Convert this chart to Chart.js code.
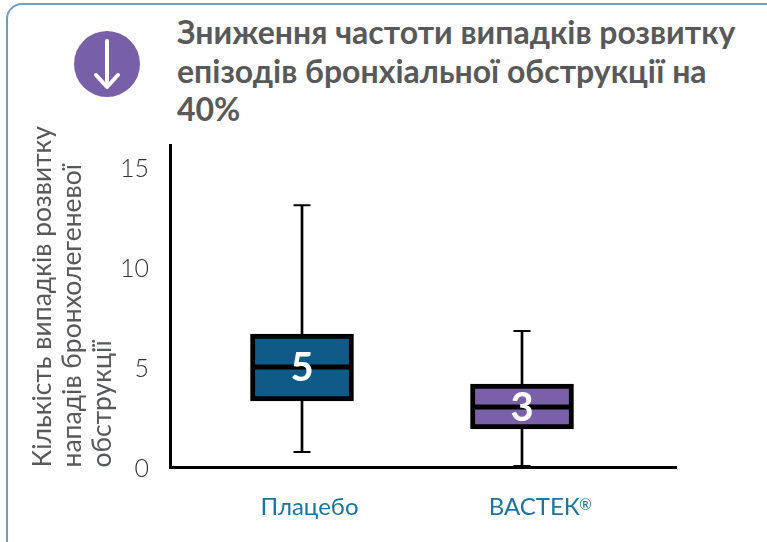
<!doctype html>
<html>
  <head>
    <meta charset="utf-8" />
    <title>Зниження частоти випадків</title>
    <style>
      html, body { margin: 0; padding: 0; background: #fff; overflow: hidden; }
      body { width: 767px; height: 542px; position: relative; }
      #card {
        position: absolute; left: 6px; top: 3px; width: 800px; height: 560px;
        border: 2px solid #6f9fbd; border-radius: 16px; box-sizing: border-box;
      }
      #icon { position: absolute; left: 74px; top: 31px; }
      h1 {
        position: absolute; left: 177px; top: 13px; width: 585px; margin: 0;
        font: bold 32px/38.5px Lato, "Open Sans", sans-serif; color: #58595b;
      }
      canvas { position: absolute; left: 0; top: 0; }
    </style>
  </head>
  <body>
    <div id="card"></div>
    <svg id="icon" width="66" height="66" viewBox="0 0 66 66">
      <circle cx="33" cy="33" r="33" fill="#7760a8"></circle>
      <path d="M33 10 V55 M22 44 L33 56 L44 44" fill="none" stroke="#fff" stroke-width="4" stroke-linecap="round" stroke-linejoin="round"></path>
    </svg>
    <h1>Зниження частоти випадків розвитку<br />епізодів бронхіальної обструкції на<br />40%</h1>
    <div style="position:absolute;left:0;top:0;width:767px;height:542px">
      <canvas id="boxChart"></canvas>
    </div>

    <script src="https://cdn.jsdelivr.net/npm/chart.js"></script>
    <script>
      var categories = ["Плацебо", "ВАСТЕК"];
      var positions = [1, 2];
      var labelPositions = [1.034, 2.056];
      var yTicks = [0, 5, 10, 15];
      var yTitle = ["Кількість випадків розвитку", "нападів бронхолегеневої", "обструкції"];
      var medianLabels = ["5", "3"];

      var whiskerLow = [0.78, 0.08];
      var whiskerHigh = [13.13, 6.83];
      var boxLow = [3.33, 1.93];
      var boxHigh = [6.68, 4.18];
      var medians = [5.03, 3.03];
      var boxColors = ["#0f5a86", "#7a60a8"];

      function ranges(lo, hi) {
        return positions.map(function (x, i) {
          return { x: x, y: [lo[i], hi[i]] };
        });
      }
      function points(vals) {
        return positions.map(function (x, i) {
          return { x: x, y: vals[i] };
        });
      }

      // white numbers on top of the boxes, and the small raised ® after the last label
      var medianText = {
        id: "medianText",
        afterDatasetsDraw: function (chart) {
          var ctx = chart.ctx;
          ctx.save();
          ctx.fillStyle = "#fff";
          ctx.font = "bold 40px Lato, 'Open Sans', sans-serif";
          ctx.textAlign = "center";
          ctx.textBaseline = "middle";
          medianLabels.forEach(function (t, i) {
            ctx.fillText(t, chart.scales.x.getPixelForValue(positions[i]), chart.scales.y.getPixelForValue(medians[i]) + 1);
          });
          ctx.fillStyle = "#1a75a3";
          ctx.font = "15px Lato, 'Open Sans', sans-serif";
          ctx.textAlign = "left";
          ctx.fillText("®", chart.scales.x.getPixelForValue(labelPositions[1]) + 45, 505);
          ctx.restore();
        },
      };

      var ctx = document.getElementById("boxChart").getContext("2d");
      var chart = new Chart(ctx, {
        type: "bar",
        data: {
          datasets: [
            {
              type: "line",
              data: points(medians),
              showLine: false,
              pointStyle: "line",
              pointRadius: 49,
              pointBorderWidth: 5,
              pointBorderColor: "#000",
              order: 1,
            },
            {
              data: ranges(boxLow, boxHigh),
              backgroundColor: boxColors,
              borderColor: "#000",
              borderWidth: 5,
              borderSkipped: false,
              barThickness: 103,
              grouped: false,
              order: 2,
            },
            {
              data: ranges(whiskerLow, whiskerHigh),
              backgroundColor: "#000",
              barThickness: 2,
              grouped: false,
              order: 3,
            },
            {
              type: "line",
              data: points(whiskerHigh),
              showLine: false,
              pointStyle: "line",
              pointRadius: 8.5,
              pointBorderWidth: 2,
              pointBorderColor: "#000",
              order: 3,
            },
            {
              type: "line",
              data: points(whiskerLow),
              showLine: false,
              pointStyle: "line",
              pointRadius: 8.5,
              pointBorderWidth: 2,
              pointBorderColor: "#000",
              order: 3,
            },
          ],
        },
        plugins: [medianText],
        options: {
          responsive: true,
          maintainAspectRatio: false,
          animation: false,
          layout: { padding: { top: 145, right: 91, left: 0, bottom: 0 } },
          plugins: { legend: { display: false }, tooltip: { enabled: false } },
          scales: {
            x: {
              type: "linear",
              offset: false,
              min: 0.4,
              max: 2.7,
              afterBuildTicks: function (axis) {
                axis.ticks = labelPositions.map(function (v) {
                  return { value: v };
                });
              },
              afterFit: function (axis) {
                axis.height = 74.5;
              },
              grid: { drawOnChartArea: false, drawTicks: false },
              border: { color: "#000", width: 3 },
              ticks: {
                autoSkip: false,
                maxRotation: 0,
                padding: 25,
                color: "#1a75a3",
                font: { family: "Lato, 'Open Sans', sans-serif", size: 24 },
                callback: function (value, index) {
                  return categories[index];
                },
              },
            },
            y: {
              min: 0,
              max: 16.15,
              afterBuildTicks: function (axis) {
                axis.ticks = yTicks.map(function (v) {
                  return { value: v };
                });
              },
              afterFit: function (axis) {
                axis.width = 170;
              },
              grid: { drawOnChartArea: false, drawTicks: false },
              border: { color: "#000", width: 3 },
              title: {
                display: true,
                text: yTitle,
                align: "start",
                color: "#58595b",
                font: { family: "Lato, 'Open Sans', sans-serif", size: 26.5, lineHeight: 1.14 },
                padding: { top: 27, bottom: 0 },
              },
              ticks: {
                padding: 21,
                labelOffset: 1,
                color: "#333",
                font: { family: "Lato, 'Open Sans', sans-serif", size: 25, weight: "300" },
              },
            },
          },
        },
      });
    </script>
  </body>
</html>
